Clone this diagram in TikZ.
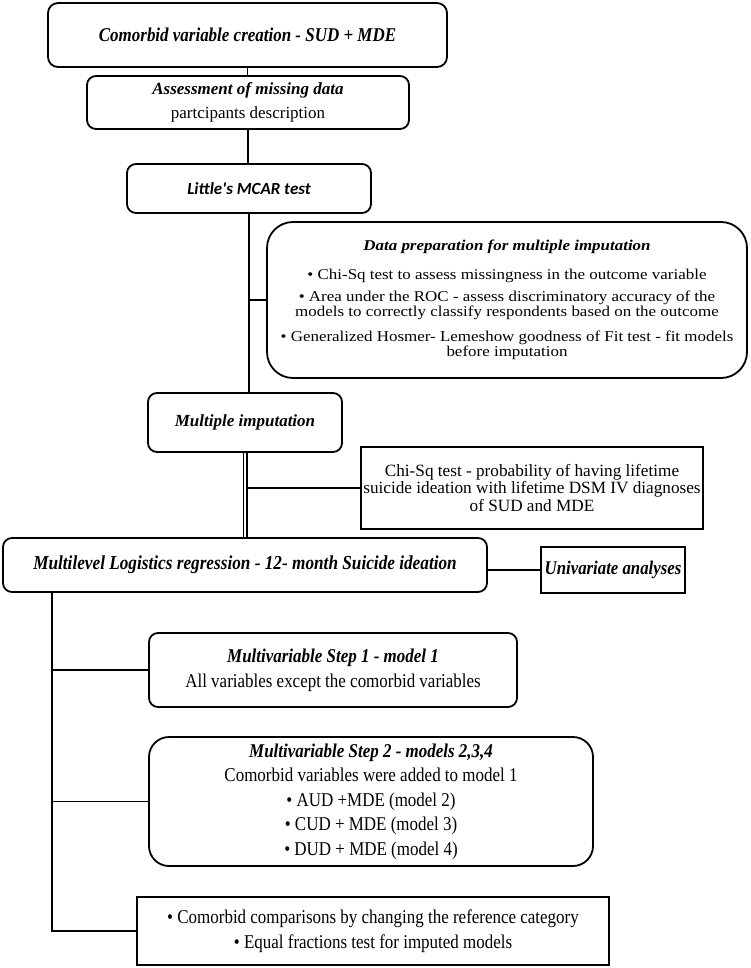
\documentclass[tikz,border=0pt]{standalone}
\usepackage{fontspec}
\setmainfont{Liberation Serif}
\newfontfamily\narrowserif[FakeStretch=0.87]{Liberation Serif}
\newfontfamily\wideserif[FakeStretch=1.13]{Liberation Serif}
\newfontfamily\carlito{Carlito}
\usepackage{tikz}
\usetikzlibrary{positioning, calc}

\begin{document}
\begin{tikzpicture}[x=1pt, y=-1pt,
  every node/.style={inner sep=0pt, align=center, font=\fontsize{17}{24}\selectfont},
  roundbox/.style={draw, line width=1.8pt, rounded corners=#1},
  roundbox/.default=9pt,
  plainbox/.style={draw, line width=1.8pt},
  link/.style={line width=1.8pt}]
  \useasboundingbox (0,0) rectangle (750,968);

  % Main chain
  \node[roundbox=10pt, minimum width=399pt, minimum height=64pt, font=\narrowserif\fontsize{19.5}{24}\selectfont] (create) at (247.5,35) {\textbf{\textit{Comorbid variable creation - SUD + MDE}}};
  \node[roundbox, minimum width=322pt, minimum height=53pt] (missing) at (248,102.5) {\textbf{\textit{Assessment of missing data}}\\partcipants description};
  \node[roundbox, minimum width=244pt, minimum height=49pt] (mcar) at (249,188.5) {\carlito\bfseries\itshape Little's MCAR test};
  \node[roundbox, minimum width=194pt, minimum height=59pt] (impute) at (245,422.5) {\textbf{\textit{Multiple imputation}}};
  \node[roundbox, minimum width=484pt, minimum height=54pt, font=\narrowserif\fontsize{19.8}{24}\selectfont] (logit) at (245,565) {\textbf{\textit{Multilevel Logistics regression - 12- month Suicide ideation}}};

  % Side boxes
  \node[roundbox=26pt, minimum width=480pt, minimum height=156pt, font=\wideserif\fontsize{15}{15}\selectfont] (prep) at (507,300) {
    \textbf{\textit{Data preparation for multiple imputation}}\\[14pt]
    • Chi-Sq test to assess missingness in the outcome variable\\[7pt]
    • Area under the ROC - assess discriminatory accuracy of the\\
    models to correctly classify respondents based on the outcome\\[10pt]
    • Generalized Hosmer- Lemeshow goodness of Fit test - fit models\\
    before imputation
  };
  \node[plainbox, minimum width=342pt, minimum height=82pt, font=\fontsize{17.2}{17.7}\selectfont] (chisq) at (532,488) {
    Chi-Sq test - probability of having lifetime\\
    suicide ideation with lifetime DSM IV diagnoses\\
    of SUD and MDE
  };
  \node[plainbox, minimum width=144pt, minimum height=46pt, font=\narrowserif\fontsize{19.3}{24}\selectfont] (univ) at (613,570) {\textbf{\textit{Univariate analyses}}};

  % Models
  \node[roundbox, minimum width=368pt, minimum height=74pt, font=\narrowserif\fontsize{19.5}{25}\selectfont] (stepone) at (333,670) {
    \textbf{\textit{Multivariable Step 1 - model 1}}\\
    All variables except the comorbid variables
  };
  \node[roundbox=20pt, minimum width=444pt, minimum height=129pt, font=\narrowserif\fontsize{19.5}{24.5}\selectfont] (steptwo) at (371,801.5) {
    \textbf{\textit{Multivariable Step 2 - models 2,3,4}}\\
    Comorbid variables were added to model 1\\
    • AUD +MDE (model 2)\\
    • CUD + MDE (model 3)\\
    • DUD + MDE (model 4)
  };
  \node[plainbox, minimum width=472pt, minimum height=68pt, font=\narrowserif\fontsize{19.5}{25}\selectfont] (compare) at (373,931) {
    • Comorbid comparisons by changing the reference category\\
    • Equal fractions test for imputed models
  };

  % Connectors
  \draw[link] (create.south) -- (create.south |- missing.north);
  \draw[link] (missing.south) -- (missing.south |- mcar.north);
  \draw[link] (mcar.south) -- (mcar.south |- impute.north);
  \draw[link] (prep.west) -- (prep.west -| mcar.south);
  \draw[link, double, double distance=1.4pt] (impute.south) -- (impute.south |- logit.north);
  \draw[link] (chisq.west) -- ([xshift=1.6pt]impute.south |- chisq.west);
  \draw[link] (univ.west) -- (univ.west -| logit.east);
  \coordinate (spine) at (52,592);
  \draw[link] (spine) |- (compare.west);
  \draw[link] (stepone.west) -- (stepone.west -| spine);
  \draw[link] (steptwo.west) -- (steptwo.west -| spine);
\end{tikzpicture}
\end{document}
